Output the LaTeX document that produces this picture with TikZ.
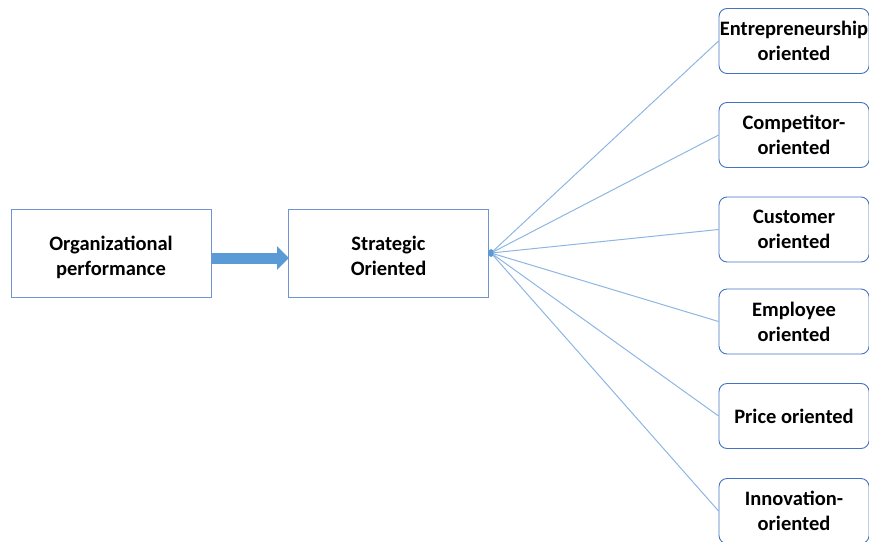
\documentclass[tikz,border=0pt]{standalone}
\usepackage{fontspec}
\setmainfont{Carlito}
\usetikzlibrary{arrows.meta}
\definecolor{boxblue}{HTML}{4472C4}
\definecolor{boxlight}{HTML}{6F93D3}
\definecolor{linkblue}{HTML}{8DB6E2}
\definecolor{arrowblue}{HTML}{5B9BD5}
\newcommand{\lowtext}[1]{\raisebox{-4.5pt}[\height][\depth]{\begin{tabular}{@{}c@{}}#1\end{tabular}}}
\tikzset{
  sqbox/.style={draw=boxlight, line width=0.9pt, minimum width=200pt, minimum height=88pt, font=\fontsize{20.5}{25}\selectfont\bfseries, inner sep=0pt},
  rbox/.style={draw=boxblue, line width=0.9pt, rounded corners=8pt, minimum width=150pt, minimum height=65pt, align=center, font=\fontsize{20.5}{25}\selectfont\bfseries, inner sep=0pt},
  link/.style={draw=linkblue, line width=1pt},
  blockarrow/.style={draw=arrowblue, line width=11pt, -{Triangle[width=23pt,length=12pt]}}
}
\begin{document}
\begin{tikzpicture}[x=1pt,y=-1pt]
\useasboundingbox (0,0) rectangle (869,541);
\node[sqbox] (org) at (111,253) {\lowtext{Organizational\\performance}};
\node[sqbox] (str) at (388.5,253) {\lowtext{Strategic\\Oriented}};
\coordinate (hub) at (491,253);
\node[rbox] (e1) at (794,41) {Entrepreneurship\\oriented};
\node[rbox] (e2) at (794,135) {Competitor-\\oriented};
\node[rbox] (e3) at (794,229.5) {Customer\\oriented};
\node[rbox] (e4) at (794,321.5) {Employee\\oriented};
\node[rbox] (e5) at (794,416) {Price oriented};
\node[rbox] (e6) at (794,511) {Innovation-\\oriented};
\coordinate (a1) at (211.5,258);
\coordinate (a2) at (289,258);
\draw[blockarrow] (a1) -- (a2);
\foreach \n in {e1,e2,e3,e4,e5,e6}{
  \draw[link] (hub) -- (\n.west);
}
\fill[arrowblue] (hub) ellipse (2.5pt and 4pt);
\end{tikzpicture}
\end{document}
